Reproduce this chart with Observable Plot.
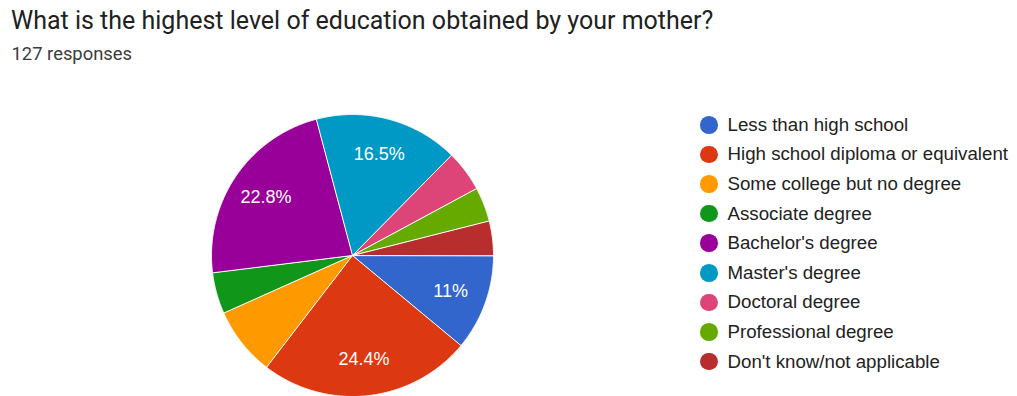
<!DOCTYPE html>
<html>
<head>
<meta charset="utf-8">
<script src="https://cdn.jsdelivr.net/npm/d3@7"></script>
<script src="https://cdn.jsdelivr.net/npm/@observablehq/plot@0.6"></script>
<style>
  html, body { margin: 0; padding: 0; background: #fff; }
  #wrap { position: relative; width: 1017px; height: 396px; overflow: hidden; background: #fff; }
  #title { position: absolute; left: 11px; top: 8.3px; font-family: Roboto, sans-serif; font-size: 25px; line-height: 1; color: #212121; white-space: nowrap; }
  #subtitle { position: absolute; left: 11.5px; top: 45px; font-family: Roboto, sans-serif; font-size: 18.4px; line-height: 1; color: #3c3c3c; white-space: nowrap; }
  #pie { position: absolute; left: 0; top: 70px; }
  #legend { position: absolute; left: 700px; top: 110px; font-family: "Liberation Sans", Arial, sans-serif; font-size: 18.7px; color: #222; }
  .row { display: flex; align-items: center; height: 29.6px; white-space: nowrap; }
  .sw { width: 17.5px; height: 17.5px; border-radius: 50%; margin-right: 10px; flex: none; }
</style>
</head>
<body>
<div id="wrap">
  <div id="title"></div>
  <div id="subtitle"></div>
  <div id="pie"></div>
  <div id="legend"></div>
</div>
<script>
const titleText = "What is the highest level of education obtained by your mother?";
const categories = [
  "Less than high school",
  "High school diploma or equivalent",
  "Some college but no degree",
  "Associate degree",
  "Bachelor's degree",
  "Master's degree",
  "Doctoral degree",
  "Professional degree",
  "Don't know/not applicable"
];
const counts = [14, 31, 10, 6, 29, 21, 6, 5, 5];
const colors = ["#3366cc", "#dc3912", "#ff9900", "#109618", "#990099", "#0099c6", "#dd4477", "#66aa00", "#b82e2e"];

const total = d3.sum(counts);
document.getElementById("title").textContent = titleText;
document.getElementById("subtitle").textContent = total + " responses";

const arcs = d3.pie().sort(null).startAngle(Math.PI / 2).endAngle(Math.PI / 2 + 2 * Math.PI)(counts);

const pts = [];
arcs.forEach((a, i) => {
  pts.push({cat: categories[i], x: 0, y: 0});
  const n = Math.max(2, Math.ceil((a.endAngle - a.startAngle) / 0.005));
  for (let k = 0; k <= n; k++) {
    const t = a.startAngle + (a.endAngle - a.startAngle) * k / n;
    pts.push({cat: categories[i], x: Math.sin(t), y: Math.cos(t)});
  }
});

const fmt = v => d3.format(".1f")(v).replace(/\.0$/, "") + "%";
const labels = arcs
  .filter(a => a.value / total >= 0.1)
  .map(a => {
    const m = (a.startAngle + a.endAngle) / 2;
    return {x: 0.74 * Math.sin(m), y: 0.74 * Math.cos(m), text: fmt(a.value / total * 100)};
  });

const chart = Plot.plot({
  width: 700,
  height: 326,
  marginLeft: 211,
  marginRight: 207,
  marginTop: 44,
  marginBottom: 0,
  x: {domain: [-1, 1], axis: null},
  y: {domain: [-1, 1], axis: null},
  color: {domain: categories, range: colors},
  style: {background: "transparent", overflow: "visible"},
  marks: [
    Plot.line(pts, {x: "x", y: "y", z: "cat", fill: "cat", stroke: "white", strokeWidth: 1, curve: "linear-closed", strokeLinejoin: "round"}),
    Plot.text(labels, {x: "x", y: "y", text: "text", fill: "white", fontSize: 18, fontFamily: "Liberation Sans, Arial, sans-serif"})
  ]
});
document.getElementById("pie").appendChild(chart);

const legend = document.getElementById("legend");
categories.forEach((c, i) => {
  const row = document.createElement("div");
  row.className = "row";
  const sw = document.createElement("span");
  sw.className = "sw";
  sw.style.background = colors[i];
  const t = document.createElement("span");
  t.textContent = c;
  row.appendChild(sw);
  row.appendChild(t);
  legend.appendChild(row);
});
</script>
</body>
</html>
